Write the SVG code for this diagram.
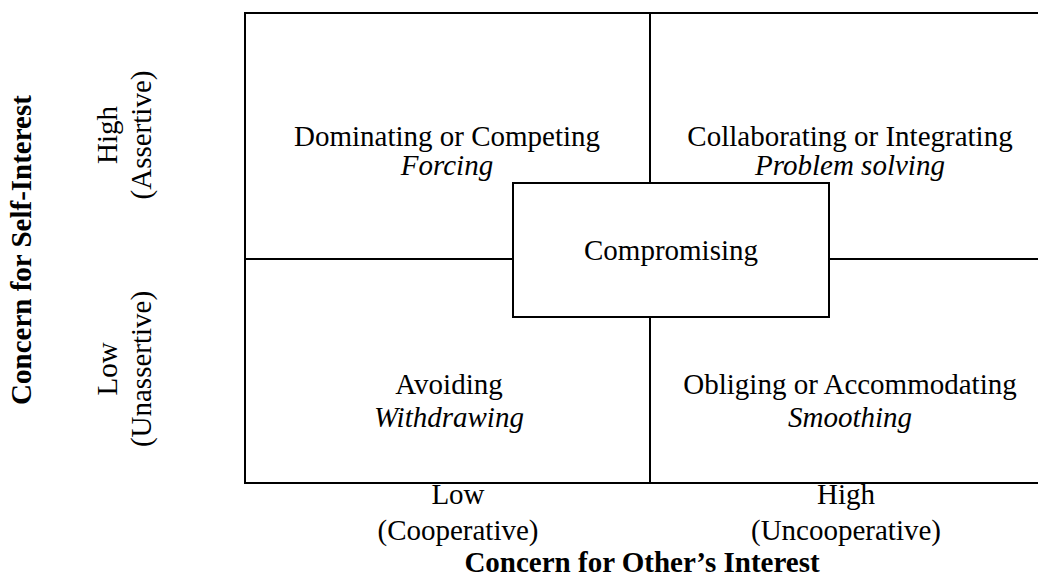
<svg xmlns="http://www.w3.org/2000/svg" width="1038" height="583" viewBox="0 0 1038 583">
<style>
.ln{stroke:#000;stroke-width:2;fill:none}
.box{stroke:#000;stroke-width:2;fill:#fff}
.t{font-family:"Liberation Serif","Times New Roman",serif;font-size:29px;fill:#000;text-anchor:middle}
.i{font-style:italic}
.b{font-weight:bold}
</style>
<rect x="0" y="0" width="1038" height="583" fill="#fff"/>
<g id="connectors">
<path class="ln" d="M245,13 V484 M244,13 H1038 M244,483 H1038 M650,13 V183 M650,317 V483 M245,259 H513 M829,259 H1038"/>
</g>
<g id="dominating">
<text class="t" x="447" y="146">Dominating or Competing</text>
<text class="t i" x="447" y="175">Forcing</text>
</g>
<g id="collaborating">
<text class="t" x="850" y="146">Collaborating or Integrating</text>
<text class="t i" x="850" y="175">Problem solving</text>
</g>
<g id="compromising">
<rect class="box" x="513" y="183" width="316" height="134"/>
<text class="t" x="671" y="260">Compromising</text>
</g>
<g id="avoiding">
<text class="t" x="449" y="394">Avoiding</text>
<text class="t i" x="449" y="427">Withdrawing</text>
</g>
<g id="obliging">
<text class="t" x="850" y="394">Obliging or Accommodating</text>
<text class="t i" x="850" y="427">Smoothing</text>
</g>
<g id="x-axis">
<text class="t" x="458" y="504">Low</text>
<text class="t" x="458" y="540">(Cooperative)</text>
<text class="t" x="846" y="504">High</text>
<text class="t" x="846" y="540">(Uncooperative)</text>
<text class="t b" x="642" y="572">Concern for Other’s Interest</text>
</g>
<g id="y-axis">
<text class="t b" transform="translate(31,250) rotate(-90)">Concern for Self-Interest</text>
<text class="t" transform="translate(117,135) rotate(-90)">High</text>
<text class="t" transform="translate(151,135) rotate(-90)">(Assertive)</text>
<text class="t" transform="translate(117,369) rotate(-90)">Low</text>
<text class="t" transform="translate(151,369) rotate(-90)">(Unassertive)</text>
</g>
</svg>
